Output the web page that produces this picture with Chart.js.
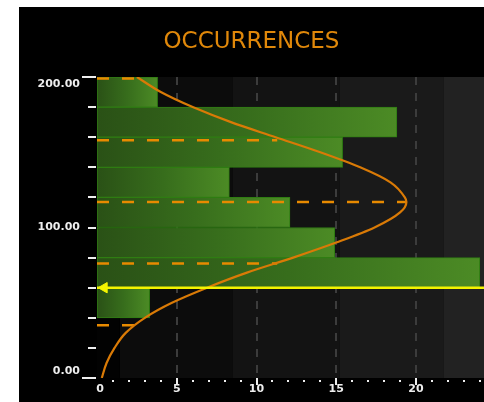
<!DOCTYPE html>
<html>
<head>
<meta charset="utf-8">
<script src="https://cdn.jsdelivr.net/npm/chart.js@4.4.1/dist/chart.umd.min.js"></script>
<style>
  html, body { margin: 0; padding: 0; background: #fff; overflow: hidden; width: 484px; height: 402px; }
  #panel { position: absolute; left: 19px; top: 7px; width: 570px; height: 395px; background: #000; }
  #title { position: absolute; left: 0; top: 22px; width: 465px; text-align: center;
           font: 23px/23px 'DejaVu Sans'; color: #e0880a; }
  #histo { position: absolute; left: 0; top: 0; }
</style>
</head>
<body>
<div id="panel">
  <canvas id="histo" width="570" height="395"></canvas>
  <div id="title">OCCURRENCES</div>
</div>
<script>
// histogram bins (centre of each 20-wide class) and their counts
const binCenters = [50, 70, 90, 110, 130, 150, 170, 190];
const occurrences = [3.3, 24.0, 14.9, 12.1, 8.3, 15.4, 18.8, 3.8];

// fitted distribution curve, sampled along the value axis
const curveLevels = [0, 10, 20, 30, 40, 50, 60, 70, 80, 90, 100, 110, 117, 120, 130, 140, 150, 160, 170, 180, 190, 200];
const curveWidths = [0.3, 0.6, 1.1, 1.8, 3.0, 4.7, 6.9, 9.4, 12.3, 15.0, 17.4, 19.0, 19.4, 19.3, 18.4, 16.5, 14.0, 11.2, 8.4, 6.0, 4.0, 2.5];

// mean and +/- 1, 2 sigma levels, each running out to the curve
const sigmaLevels = [35, 76, 117, 158, 199];
const sigmaWidths = [2.4, 11.3, 19.4, 11.3, 2.6];

// limit line with its marker
const limitLevel = 60;
const limitMarkerAt = 0.45;

// axis labels
const xLabelValues = [0, 5, 10, 15, 20, 25];
const xLabels = ['0', '5', '10', '15', '20', '25'];
const yLabelValues = [0, 100, 200];
const yLabels = ['0.00', '100.00', '200.00'];

// shaded columns behind the plot
const bandEdges = [0, 1.44, 8.5, 15.2, 21.75, 30];
const bandShades = ['#020202', '#0c0c0c', '#131313', '#1a1a1a', '#222222'];

const axisDecor = {
  id: 'axisDecor',
  beforeDatasetsDraw(chart) {
    const { ctx, chartArea: a, scales: { x } } = chart;
    ctx.save();
    for (let i = 0; i < bandShades.length; i++) {
      const l = x.getPixelForValue(bandEdges[i]);
      const r = x.getPixelForValue(bandEdges[i + 1]);
      ctx.fillStyle = bandShades[i];
      ctx.fillRect(l, a.top, r - l, a.bottom - a.top);
    }
    ctx.strokeStyle = '#3c3c3c';
    ctx.lineWidth = 2;
    ctx.setLineDash([8, 8]);
    xLabelValues.forEach(v => {
      if (v === 0) return;
      const px = Math.round(x.getPixelForValue(v));
      ctx.beginPath();
      ctx.moveTo(px, a.top);
      ctx.lineTo(px, a.bottom);
      ctx.stroke();
    });
    ctx.restore();
  },
  afterDraw(chart) {
    const { ctx, chartArea: a, scales: { x, y } } = chart;
    ctx.save();
    ctx.fillStyle = '#eeeeee';
    // value axis ticks every 20, longer at both ends
    for (let v = y.min; v <= y.max; v += 20) {
      const py = Math.round(y.getPixelForValue(v));
      const len = (v === y.min || v === y.max) ? 14 : 8;
      ctx.fillRect(a.left - len - 1, py - 1, len, 2);
    }
    // count axis: dots every unit, short bars every 5
    for (let v = 1; v < x.max; v++) {
      const px = Math.round(x.getPixelForValue(v));
      if (v % 5 === 0) ctx.fillRect(px - 1, a.bottom, 2, 7);
      else ctx.fillRect(px - 1, a.bottom + 2, 2, 2);
    }
    ctx.font = 'bold 11px "DejaVu Sans"';
    ctx.textAlign = 'right';
    ctx.textBaseline = 'middle';
    yLabelValues.forEach((v, i) => {
      let py = y.getPixelForValue(v);
      py = Math.min(Math.max(py, a.top + 7), a.bottom - 7);
      ctx.fillText(yLabels[i], a.left - 17, py);
    });
    ctx.textAlign = 'center';
    ctx.textBaseline = 'top';
    xLabelValues.forEach((v, i) => {
      const px = Math.max(x.getPixelForValue(v), a.left + 3);
      ctx.fillText(xLabels[i], px, a.bottom + 6);
    });
    ctx.restore();
  }
};

function barFill(c) {
  const chart = c.chart;
  if (!chart.chartArea || c.type !== 'data') return '#3a6e1c';
  const xs = chart.scales.x;
  const x0 = xs.getPixelForValue(0);
  const x1 = xs.getPixelForValue(c.raw.x);
  const g = chart.ctx.createLinearGradient(x0, 0, x1, 0);
  g.addColorStop(0, '#2a5116');
  g.addColorStop(0.5, '#376d1c');
  g.addColorStop(1, '#4c8b25');
  return g;
}

const datasets = [
  {
    type: 'line',
    order: 0,
    data: [{ x: 0, y: limitLevel }, { x: 30, y: limitLevel }],
    borderColor: '#f4f400',
    borderWidth: 2.5,
    pointRadius: 0
  },
  {
    type: 'line',
    order: 0,
    data: [{ x: limitMarkerAt, y: limitLevel }],
    showLine: false,
    pointStyle: 'triangle',
    rotation: -90,
    pointRadius: 6,
    pointBackgroundColor: '#f4f400',
    pointBorderColor: '#f4f400'
  },
  {
    type: 'line',
    order: 1,
    data: curveLevels.map((lv, i) => ({ x: curveWidths[i], y: lv })),
    borderColor: '#d97a06',
    borderWidth: 2.2,
    cubicInterpolationMode: 'monotone',
    pointRadius: 0
  },
  ...sigmaLevels.map((lv, i) => ({
    type: 'line',
    order: 2,
    data: [{ x: 0, y: lv }, { x: sigmaWidths[i], y: lv }],
    borderColor: '#e88a00',
    borderWidth: 2.5,
    borderDash: [12, 13],
    pointRadius: 0
  })),
  {
    type: 'bar',
    order: 3,
    data: binCenters.map((c, i) => ({ x: occurrences[i], y: c })),
    backgroundColor: barFill,
    borderColor: '#2f7d12',
    borderWidth: 1,
    borderSkipped: false,
    barPercentage: 1,
    categoryPercentage: 1
  }
];

new Chart(document.getElementById('histo'), {
  type: 'bar',
  data: { datasets: datasets },
  options: {
    responsive: false,
    animation: false,
    indexAxis: 'y',
    layout: { padding: { left: 78, top: 70, right: 13.5, bottom: 24 } },
    plugins: { legend: { display: false }, tooltip: { enabled: false } },
    scales: {
      x: { type: 'linear', min: 0, max: 30, display: false },
      y: { type: 'linear', min: 0, max: 200, offset: false, display: false, ticks: { stepSize: 20 } }
    }
  },
  plugins: [axisDecor]
});
</script>
</body>
</html>
